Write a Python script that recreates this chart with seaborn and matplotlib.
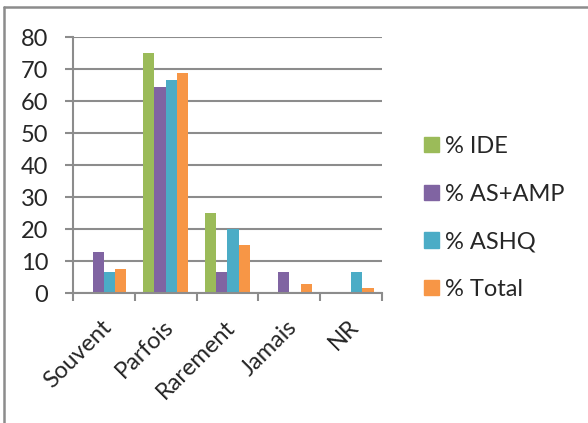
import matplotlib
matplotlib.use("Agg")
import matplotlib.pyplot as plt
import matplotlib.transforms as mtransforms
import seaborn as sns
import pandas as pd
from matplotlib.lines import Line2D

categories = ["Souvent", "Parfois", "Rarement", "Jamais", "NR"]
series_names = ["% IDE", "% AS+AMP", "% ASHQ", "% Total"]
ide = [0, 75, 25, 0, 0]
as_amp = [12.9, 64.5, 6.5, 6.5, 0]
ashq = [6.7, 66.7, 20, 0, 6.7]
total = [7.4, 68.6, 15, 2.9, 1.5]
colors = ["#9BBB59", "#8064A2", "#4BACC6", "#F79646"]
yticks = [0, 10, 20, 30, 40, 50, 60, 70, 80]

rows = []
for name, vals in zip(series_names, [ide, as_amp, ashq, total]):
    for c, v in zip(categories, vals):
        rows.append({"cat": c, "series": name, "val": v})
df = pd.DataFrame(rows)

sns.set_style("white")
plt.rcParams["font.family"] = ["Lato", "DejaVu Sans"]
FS = 17

fig = plt.figure(figsize=(5.88, 4.23), dpi=100)
ax = fig.add_axes([73/588, 1-293/423, (382-73)/588, (293-37)/423])
sns.barplot(data=df, x="cat", y="val", hue="series", order=categories,
            hue_order=series_names, palette=colors, saturation=1, width=0.73,
            edgecolor="none", linewidth=0, ax=ax, legend=False)

grid_c = "#8C8C8C"
ax.set_xlim(-0.5, 4.5)
ax.set_ylim(0, 80)
ax.set_yticks(yticks)
ax.yaxis.grid(True, color=grid_c, linewidth=1.5)
ax.set_axisbelow(True)
for s in ["top", "right"]:
    ax.spines[s].set_visible(False)
for s in ["left", "bottom"]:
    ax.spines[s].set_color(grid_c)
    ax.spines[s].set_linewidth(1.5)
ax.set_xlabel("")
ax.set_ylabel("")
ax.tick_params(axis="y", length=5.8, width=1.5, color=grid_c, labelsize=FS, pad=12, left=True)
ax.set_xticks(range(len(categories)))
ax.set_xticklabels(categories, rotation=45, ha="right", va="center",
                   rotation_mode="anchor", fontsize=FS)
ax.tick_params(axis="x", which="major", length=0, pad=22)
offset = mtransforms.ScaledTranslation(4/100, 0, fig.dpi_scale_trans)
for lab in ax.get_xticklabels():
    lab.set_transform(lab.get_transform() + offset)
ax.set_xticks([i - 0.5 for i in range(len(categories) + 1)], minor=True)
ax.tick_params(axis="x", which="minor", length=6, width=1.5, color=grid_c, bottom=True)

handles = [plt.Rectangle((0, 0), 1, 1, color=c) for c in colors]
fs_px = FS * 100 / 72
fig.legend(handles, series_names, loc="center left",
           bbox_to_anchor=((424 - 0.4 * fs_px) / 588, 1 - 218 / 423),
           borderaxespad=0, frameon=False, fontsize=FS,
           handlelength=15 / fs_px, handleheight=15 / fs_px,
           handletextpad=6 / fs_px, labelspacing=1.13)

fig.add_artist(Line2D([4/588, 1.0], [1-7.5/423, 1-7.5/423], transform=fig.transFigure,
                      color=grid_c, linewidth=1.8))
fig.add_artist(Line2D([4/588, 4/588], [0, 1-7.5/423], transform=fig.transFigure,
                      color=grid_c, linewidth=1.8))

fig.savefig("out.png", dpi=100)
